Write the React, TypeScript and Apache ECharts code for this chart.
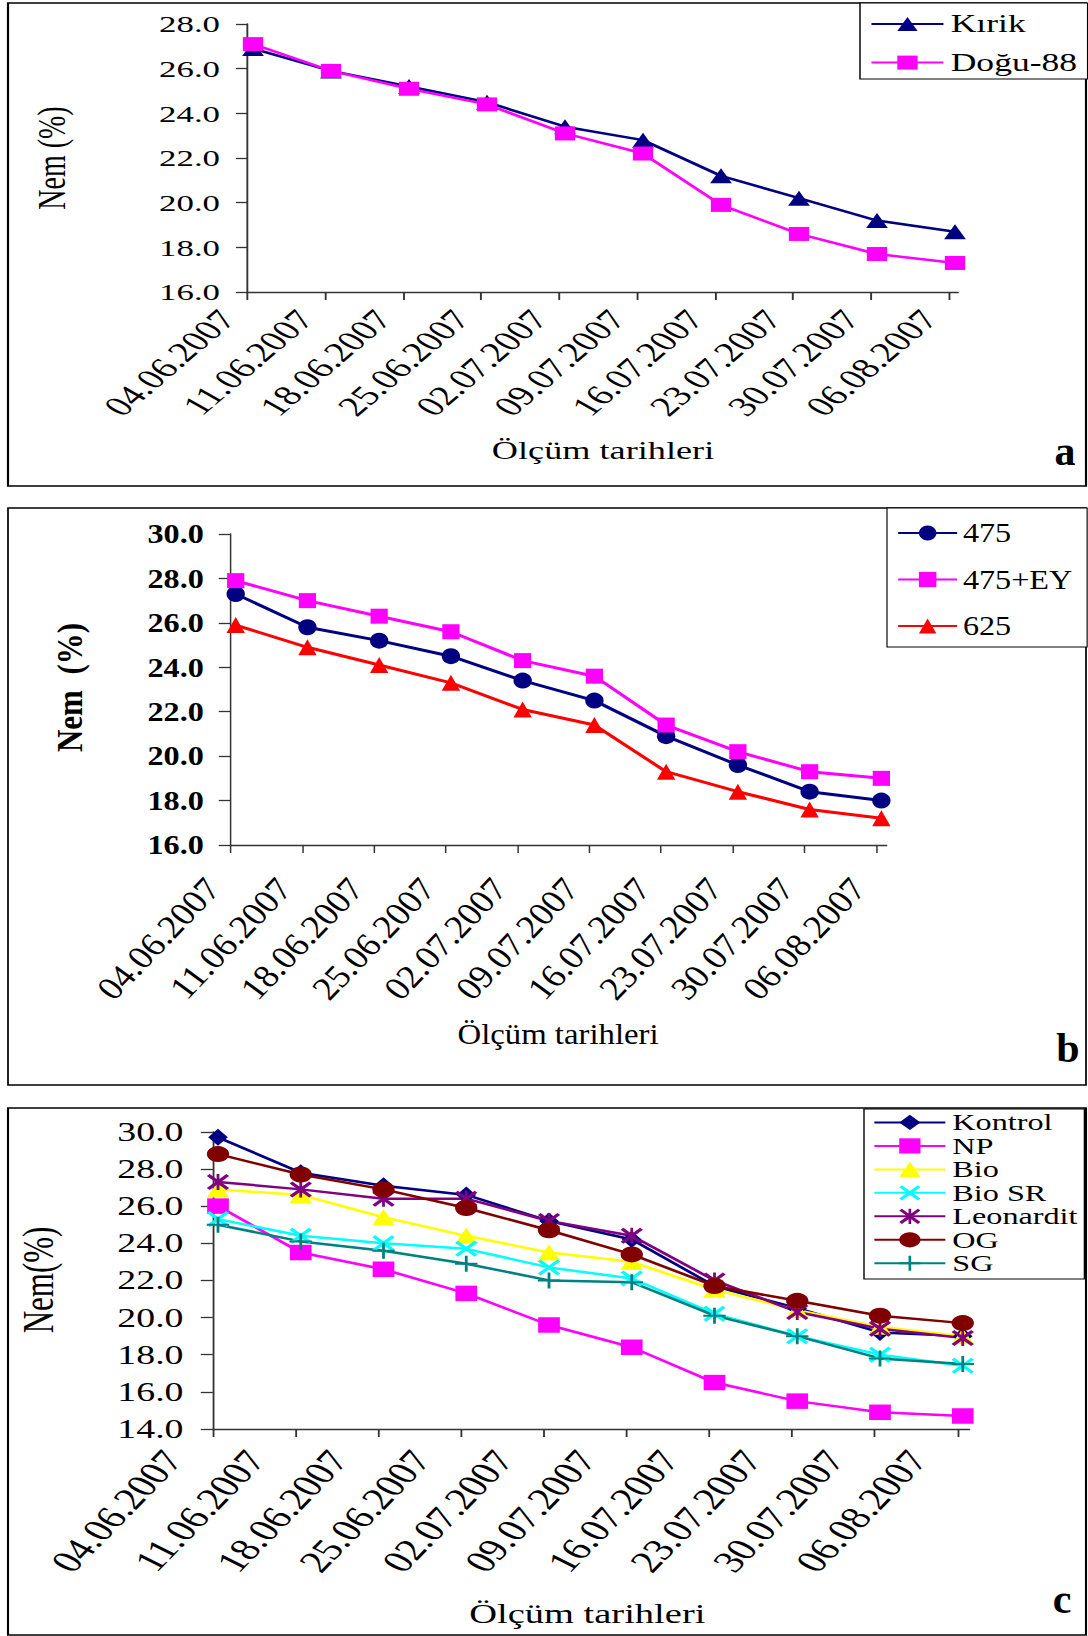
import React, { useEffect, useRef } from "react";
import * as echarts from "echarts";

const FONT = "'Liberation Serif', 'Times New Roman', Times, serif";
const PAGE_W = 1088;

const categories = [
  "04.06.2007", "11.06.2007", "18.06.2007", "25.06.2007", "02.07.2007",
  "09.07.2007", "16.07.2007", "23.07.2007", "30.07.2007", "06.08.2007",
];

const yTicksA = [16, 18, 20, 22, 24, 26, 28];
const yTicksB = [16, 18, 20, 22, 24, 26, 28, 30];
const yTicksC = [14, 16, 18, 20, 22, 24, 26, 28, 30];

// Panel a
const kirik = [26.9, 25.9, 25.2, 24.5, 23.4, 22.8, 21.2, 20.2, 19.2, 18.7];
const dogu88 = [27.1, 25.9, 25.1, 24.4, 23.1, 22.2, 19.9, 18.6, 17.7, 17.3];

// Panel b
const s475 = [27.3, 25.8, 25.2, 24.5, 23.4, 22.5, 20.9, 19.6, 18.4, 18.0];
const s475EY = [27.9, 27.0, 26.3, 25.6, 24.3, 23.6, 21.4, 20.2, 19.3, 19.0];
const s625 = [25.9, 24.9, 24.1, 23.3, 22.1, 21.4, 19.3, 18.4, 17.6, 17.2];

// Panel c
const kontrol = [29.7, 27.8, 27.1, 26.6, 25.2, 24.2, 21.7, 20.5, 19.2, 19.0];
const np = [26.0, 23.5, 22.6, 21.3, 19.6, 18.4, 16.5, 15.5, 14.9, 14.7];
const bio = [26.9, 26.6, 25.4, 24.4, 23.5, 23.0, 21.5, 20.4, 19.5, 19.0];
const bioSR = [25.3, 24.4, 24.0, 23.7, 22.7, 22.1, 20.2, 19.0, 18.0, 17.4];
const leonardit = [27.3, 26.9, 26.4, 26.4, 25.2, 24.4, 22.0, 20.3, 19.4, 18.9];
const og = [28.8, 27.7, 26.9, 25.9, 24.7, 23.4, 21.7, 20.9, 20.1, 19.7];
const sg = [25.0, 24.1, 23.6, 22.9, 22.0, 21.9, 20.1, 19.0, 17.8, 17.5];

const X_PATH =
  "path://M0,2.5L2.5,0L10,7.5L17.5,0L20,2.5L12.5,10L20,17.5L17.5,20L10,12.5L2.5,20L0,17.5L7.5,10Z";
const STAR_PATH =
  "path://M0,2.5L2.5,0L10,7.5L17.5,0L20,2.5L12.5,10L20,17.5L17.5,20L10,12.5L2.5,20L0,17.5L7.5,10ZM8.75,0L11.25,0L11.25,20L8.75,20Z";
const PLUS_PATH =
  "path://M8.75,0L11.25,0L11.25,8.75L20,8.75L20,11.25L11.25,11.25L11.25,20L8.75,20L8.75,11.25L0,11.25L0,8.75L8.75,8.75Z";

const panelA = {
  T: 0, H: 492, s: 1.45,
  border: [8, 3, 1086, 486],
  yAxisX: 247, yTopY: 24, yBotY: 292, axisEndX: 958, point0X: 253, unit: 78,
  yTicks: yTicksA,
  yLabel: { font: 24, bold: false, marginFull: 27, tickLenFull: 11 },
  xLabel: { offset: -0.33, margin: 22, font: 28, rotate: 51 },
  lineWidth: 2.5,
  series: [
    { name: "Kırik", data: kirik, color: "#000080", symbol: "triangle", size: 15 },
    { name: "Doğu-88", data: dogu88, color: "#FF00FF", symbol: "rect", size: 14 },
  ],
  legend: { left: 860, top: 3, itemWidthFull: 72, itemHeight: 17.5, font: 24.5, lineHeight: 25, gap: 13.6, padding: [8.5, 7.3, 4, 6.9] },
  title: { text: "Ölçüm tarihleri", x: 603, y: 450.5, font: 25 },
  yName: { text: "Nem (%)", x: 52, y: 158, font: 28, bold: false },
  letter: { text: "a", x: 1065, y: 451.4, font: 42 },
};

const panelB = {
  T: 496, H: 594, s: 1.15,
  border: [8, 508, 1086, 1085],
  yAxisX: 230.5, yTopY: 534, yBotY: 845, axisEndX: 886.6, point0X: 235.7, unit: 71.74,
  yTicks: yTicksB,
  yLabel: { font: 28, bold: true, marginFull: 26.7, tickLenFull: 11.7 },
  xLabel: { offset: -0.32, margin: 38, font: 32.5, rotate: 50 },
  lineWidth: 3,
  series: [
    { name: "475", data: s475, color: "#000080", symbol: "circle", size: 16 },
    { name: "475+EY", data: s475EY, color: "#FF00FF", symbol: "rect", size: 15 },
    { name: "625", data: s625, color: "#FF0000", symbol: "triangle", size: 16 },
  ],
  legend: { left: 887, top: 508, itemWidthFull: 59, itemHeight: 19, font: 28, lineHeight: 28, gap: 18.5, padding: [11, 12.9, 7, 8.7] },
  title: { text: "Ölçüm tarihleri", x: 558, y: 1034.3, font: 28.5 },
  yName: { text: "Nem  (%)", x: 70, y: 687.5, font: 31, bold: true },
  letter: { text: "b", x: 1068, y: 1047.7, font: 42 },
};

const panelC = {
  T: 1096, H: 540, s: 1.4,
  border: [8, 1108, 1086, 1635],
  yAxisX: 212.8, yTopY: 1131.8, yBotY: 1429, axisEndX: 969.3, point0X: 218, unit: 82.75,
  yTicks: yTicksC,
  yLabel: { font: 27, bold: false, marginFull: 29.3, tickLenFull: 12 },
  xLabel: { offset: -0.55, margin: 25, font: 31, rotate: 55 },
  lineWidth: 2.5,
  series: [
    { name: "Kontrol", data: kontrol, color: "#000080", symbol: "diamond", size: [14, 17] },
    { name: "NP", data: np, color: "#FF00FF", symbol: "rect", size: 15.5 },
    { name: "Bio", data: bio, color: "#FFFF00", symbol: "triangle", size: 16 },
    { name: "Bio SR", data: bioSR, color: "#00FFFF", symbol: X_PATH, size: 16 },
    { name: "Leonardit", data: leonardit, color: "#800080", symbol: STAR_PATH, size: 16 },
    { name: "OG", data: og, color: "#800000", symbol: "circle", size: 16 },
    { name: "SG", data: sg, color: "#008080", symbol: PLUS_PATH, size: 16 },
  ],
  legend: { left: 864, top: 1109, itemWidthFull: 71, itemHeight: 19, font: 23, lineHeight: 23.47, gap: 0, padding: [1.7, 4.9, 4.1, 6.4] },
  title: { text: "Ölçüm tarihleri", x: 587.3, y: 1613.5, font: 27.5 },
  yName: { text: "Nem(%)", x: 38, y: 1280, font: 31, bold: false },
  letter: { text: "c", x: 1062, y: 1599.4, font: 42 },
};

function buildOption(p: any, Wc: number) {
  const s = PAGE_W / Wc;
  const ux = (x: number) => x / s;
  const ly = (y: number) => y - p.T;
  const n = categories.length;
  const xMin = -(p.point0X - p.yAxisX) / p.unit;
  const xMax = (p.axisEndX - p.point0X) / p.unit;
  const unitU = p.unit / s;
  const top = ly(p.yTopY);
  const bottom = p.H - ly(p.yBotY);
  const g0Left = ux(p.yAxisX);
  const g0Right = Wc - ux(p.axisEndX);
  const g1Left = ux(p.point0X) + p.xLabel.offset * unitU;
  const g1Right = Wc - g1Left - (n - 1) * unitU;
  const yMin = p.yTicks[0];
  const yMax = p.yTicks[p.yTicks.length - 1];
  const yStep = p.yTicks[1] - p.yTicks[0];
  const axisColor = "#333";
  const [bx0, by0, bx1, by1] = p.border;

  return {
    animation: false,
    grid: [
      { left: g0Left, right: g0Right, top, bottom, outerBoundsMode: "none", containLabel: false },
      { left: g1Left, right: g1Right, top, bottom, outerBoundsMode: "none", containLabel: false },
    ],
    xAxis: [
      {
        type: "value", gridIndex: 0, min: xMin, max: xMax,
        axisLine: { show: true, onZero: false, lineStyle: { color: axisColor, width: 1.3 } },
        axisTick: {
          show: true, inside: false, length: 8,
          customValues: categories.map((_, i) => xMin + i),
          lineStyle: { color: axisColor, width: 1.3 },
        },
        axisLabel: { show: false },
        splitLine: { show: false },
      },
      {
        type: "category", gridIndex: 1, data: categories, boundaryGap: false,
        axisLine: { show: false }, axisTick: { show: false }, splitLine: { show: false },
        axisLabel: {
          show: true, interval: 0, rotate: p.xLabel.rotate, margin: p.xLabel.margin,
          fontSize: p.xLabel.font, fontFamily: FONT, color: "#000", hideOverlap: false,
        },
      },
    ],
    yAxis: [
      {
        type: "value", gridIndex: 0, min: yMin, max: yMax, interval: yStep,
        axisLine: { show: true, onZero: false, lineStyle: { color: axisColor, width: 1.3 } },
        axisTick: { show: true, inside: false, length: ux(p.yLabel.tickLenFull), lineStyle: { color: axisColor, width: 1.3 } },
        axisLabel: {
          formatter: (v: number) => v.toFixed(1),
          margin: ux(p.yLabel.marginFull),
          fontSize: p.yLabel.font,
          fontWeight: p.yLabel.bold ? "bold" : "normal",
          fontFamily: FONT, color: "#000",
        },
        splitLine: { show: false },
      },
      { type: "value", gridIndex: 1, min: yMin, max: yMax, show: false },
    ],
    legend: {
      orient: "vertical",
      left: ux(p.legend.left), top: ly(p.legend.top),
      itemWidth: ux(p.legend.itemWidthFull), itemHeight: p.legend.itemHeight,
      itemGap: p.legend.gap, padding: p.legend.padding,
      borderColor: "#000", borderWidth: 1, backgroundColor: "#fff", borderRadius: 0,
      selectedMode: false,
      textStyle: { fontFamily: FONT, fontSize: p.legend.font, color: "#000", lineHeight: p.legend.lineHeight },
      data: p.series.map((sr: any) => sr.name),
    },
    series: p.series.map((sr: any) => ({
      type: "line", name: sr.name, xAxisIndex: 0, yAxisIndex: 0,
      data: sr.data.map((v: number, i: number) => [i, v]),
      symbol: sr.symbol, symbolSize: sr.size, showSymbol: true, showAllSymbol: true,
      clip: false,
      lineStyle: { color: sr.color, width: p.lineWidth },
      itemStyle: { color: sr.color, borderWidth: 0 },
      emphasis: { disabled: true },
    })),
    graphic: [
      {
        type: "rect", silent: true, z: 0,
        shape: { x: ux(bx0), y: ly(by0), width: ux(bx1) - ux(bx0), height: by1 - by0 },
        style: { fill: "none", stroke: "#000", lineWidth: 1.5 },
      },
      {
        type: "text", silent: true, x: ux(p.title.x), y: ly(p.title.y),
        style: { text: p.title.text, fontFamily: FONT, fontSize: p.title.font, fill: "#000", align: "center", verticalAlign: "middle" },
      },
      {
        type: "text", silent: true, x: ux(p.yName.x), y: ly(p.yName.y), rotation: Math.PI / 2,
        style: {
          text: p.yName.text, fontFamily: FONT, fontSize: p.yName.font,
          fontWeight: p.yName.bold ? "bold" : "normal", fill: "#000", align: "center", verticalAlign: "middle",
        },
      },
      {
        type: "text", silent: true, x: ux(p.letter.x), y: ly(p.letter.y), scaleX: 1 / s,
        style: { text: p.letter.text, fontFamily: FONT, fontSize: p.letter.font, fontWeight: "bold", fill: "#000", align: "center", verticalAlign: "middle" },
      },
    ],
  };
}

function Panel({ spec }: { spec: any }) {
  const ref = useRef<HTMLDivElement>(null);
  const Wc = Math.round(PAGE_W / spec.s);
  const sEff = PAGE_W / Wc;
  useEffect(() => {
    if (!ref.current) return;
    const chart = echarts.init(ref.current, undefined, { renderer: "svg" });
    chart.setOption(buildOption(spec, Wc) as any);
    return () => chart.dispose();
  }, []);
  return (
    <div
      ref={ref}
      style={{
        position: "absolute", left: 0, top: spec.T, width: Wc, height: spec.H,
        transform: `scaleX(${sEff})`, transformOrigin: "0 0",
      }}
    />
  );
}

export default function App() {
  return (
    <div style={{ position: "absolute", left: 0, top: 0, width: PAGE_W, height: 1636, background: "#fff", overflow: "hidden" }}>
      <Panel spec={panelA} />
      <Panel spec={panelB} />
      <Panel spec={panelC} />
    </div>
  );
}
